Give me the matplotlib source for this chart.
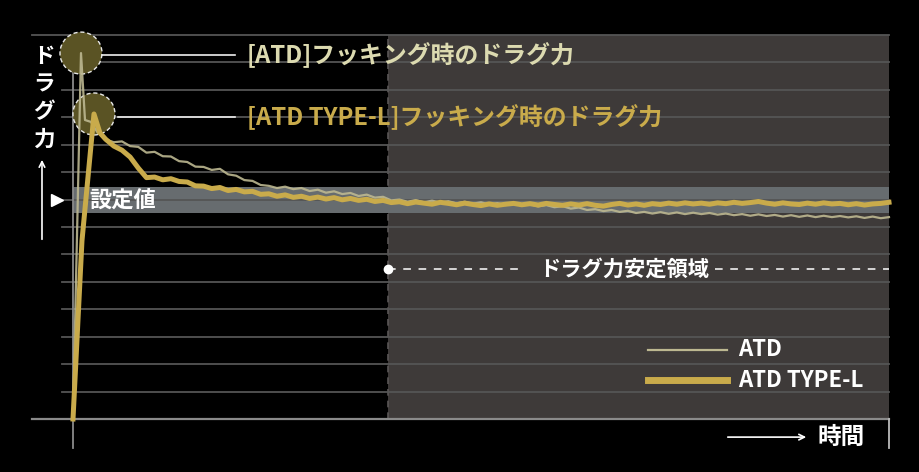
import numpy as np
import matplotlib
matplotlib.use('Agg')
import matplotlib.pyplot as plt
from matplotlib.patches import Ellipse, Rectangle

plt.rcParams['font.family'] = ['Noto Sans CJK JP', 'DejaVu Sans']

# time axis 0..100, drag axis 0..14 (grid every 1)
t_tail = list(range(4, 101))

# ATD (thin, pale)
atd_head_t = [0, 0.98, 1.47, 2.2, 3.0]
atd_head_y = [0, 13.34, 10.90, 10.83, 10.45]
atd_tail = [10.19, 10.09, 10.12, 9.95, 9.92, 9.71, 9.74, 9.58, 9.57, 9.40,
            9.37, 9.20, 9.19, 9.08, 9.12, 8.92, 8.87, 8.71, 8.68, 8.53,
            8.50, 8.42, 8.47, 8.38, 8.42, 8.31, 8.36, 8.25, 8.30, 8.20,
            8.24, 8.13, 8.18, 8.07, 8.10, 7.97, 8.00,
            7.92, 7.98, 7.90, 7.96, 7.89, 7.94, 7.86, 7.92, 7.85, 7.90,
            7.82, 7.87, 7.80, 7.85, 7.78, 7.83, 7.75, 7.80, 7.72, 7.76,
            7.67, 7.71, 7.62, 7.65, 7.58, 7.62, 7.55, 7.59, 7.51, 7.55,
            7.49, 7.54, 7.48, 7.53, 7.47, 7.52, 7.47, 7.51, 7.45, 7.49,
            7.43, 7.47, 7.41, 7.46, 7.40, 7.44, 7.38, 7.43, 7.37, 7.42,
            7.36, 7.41, 7.36, 7.40, 7.35, 7.39, 7.33, 7.38, 7.32, 7.36]

# ATD TYPE-L (thick, gold)
typel_head_t = [0, 1.1, 2.57, 3.3]
typel_head_y = [0, 6.5, 11.12, 10.43]
typel_tail = [10.20, 9.95, 9.80, 9.55, 9.15, 8.80, 8.82, 8.72, 8.76, 8.66,
              8.64, 8.50, 8.49, 8.40, 8.44, 8.33, 8.37, 8.28, 8.30, 8.19,
              8.21, 8.12, 8.17, 8.08, 8.12, 8.04, 8.09, 8.02, 8.07, 7.99,
              8.04, 7.97, 8.01, 7.93, 7.97, 7.89, 7.92,
              7.85, 7.91, 7.87, 7.83, 7.90, 7.86, 7.81, 7.87, 7.82, 7.78,
              7.84, 7.79, 7.83, 7.86, 7.81, 7.85, 7.80, 7.86, 7.82, 7.79,
              7.84, 7.80, 7.85, 7.79, 7.76, 7.82, 7.86, 7.80, 7.84, 7.79,
              7.85, 7.82, 7.87, 7.83, 7.88, 7.84, 7.87, 7.83, 7.88, 7.85,
              7.90, 7.86, 7.89, 7.93, 7.87, 7.83, 7.88, 7.84, 7.82, 7.87,
              7.83, 7.88, 7.84, 7.86, 7.81, 7.85, 7.80, 7.84, 7.86, 7.90]

setpoint_low, setpoint_high = 7.5, 8.47
stable_start = 38.6
t_end = 100
y_top = 14

pale = '#bdb891'
gold = '#c9ab4b'
grid_c = '#555555'

fig = plt.figure(figsize=(9.2, 4.72), dpi=100, facecolor='black')
ax = fig.add_axes([0, 0, 1, 1])
ax.set_facecolor('black')
# map whole figure so that t=0 sits at x=73px and y=0 at 419px
ax.set_xlim(-8.946, 103.8)
ax.set_ylim(-1.932, 15.275)
ax.axis('off')

# stable region background
ax.add_patch(Rectangle((stable_start, 0), t_end - stable_start, y_top,
                       facecolor='#3e3a39', edgecolor='none', zorder=0))
ax.plot([stable_start, stable_start], [0, y_top], color='#5a5656', lw=1.2,
        ls=(0, (4, 3)), zorder=1)

# set value band
ax.add_patch(Rectangle((0, setpoint_low), t_end, setpoint_high - setpoint_low,
                       facecolor='#676c6f', edgecolor='none', zorder=1))

# grid
for yv in range(1, y_top):
    ax.plot([-1.35, t_end], [yv, yv], color=grid_c, lw=1.3, zorder=2)
ax.plot([-5, t_end], [y_top, y_top], color=grid_c, lw=1.3, zorder=2)

# axes lines
ax.plot([-5, t_end], [0, 0], color='#8a8a8a', lw=1.6, zorder=3)
ax.plot([0, 0], [-1.06, y_top], color='#8a8a8a', lw=1.3, zorder=3)
ax.plot([t_end, t_end], [0, -1.06], color='#bbbbbb', lw=1.3, zorder=3)

# highlight circles at the peaks
for (cx, cy) in [(atd_head_t[1], atd_head_y[1]), (typel_head_t[2], typel_head_y[2])]:
    ax.add_patch(Ellipse((cx, cy), 5.15, 1.53, facecolor='#5a5324',
                         edgecolor='#e8e8e8', lw=1.0, ls=(0, (3, 2)), zorder=4))

# series
ax.plot(atd_head_t + t_tail, atd_head_y + atd_tail, color=pale, lw=1.6,
        alpha=0.9, zorder=5, solid_joinstyle='round')
ax.plot(typel_head_t + t_tail, typel_head_y + typel_tail, color=gold, lw=3.6,
        zorder=6, solid_joinstyle='round')

# callouts
ax.plot([3.6, 19.85], [atd_head_y[1] - 0.07, atd_head_y[1] - 0.07], color='#eeeeee', lw=1.2, zorder=6)
ax.plot([5.5, 19.85], [typel_head_y[2] - 0.11, typel_head_y[2] - 0.11], color='#eeeeee', lw=1.2, zorder=6)
ax.text(21.3, atd_head_y[1] - 0.07, '[ATD]フッキング時のドラグ力', color='#dcdab0',
        fontsize=17.2, fontweight='bold', va='center', ha='left', zorder=7)
ax.text(21.3, typel_head_y[2] - 0.11, '[ATD TYPE-L]フッキング時のドラグ力', color=gold,
        fontsize=17.2, fontweight='bold', va='center', ha='left', zorder=7)

# set value label
ax.plot([-1.96], [7.98], marker='>', color='white', markersize=8, zorder=7)
ax.text(2.0, 7.98, '設定値', color='white', fontsize=16, fontweight='bold',
        va='center', ha='left', zorder=7)

# stable region annotation
y_st = 5.47
ax.plot([stable_start], [y_st], marker='o', color='white', markersize=6, zorder=7)
ax.plot([stable_start, 55.4], [y_st, y_st], color='white', lw=1.1, ls=(0, (5, 5)), zorder=7)
ax.plot([78.7, t_end], [y_st, y_st], color='white', lw=1.1, ls=(0, (5, 5)), zorder=7)
ax.text(67.5, y_st, 'ドラグ力安定領域', color='white', fontsize=15.3, fontweight='bold',
        va='center', ha='center', zorder=7)

# legend
ax.plot([70.5, 80.1], [2.52, 2.52], color=pale, lw=1.6, zorder=7)
ax.plot([70.5, 80.1], [1.42, 1.42], color=gold, lw=5, zorder=7)
ax.text(81.5, 2.52, 'ATD', color='white', fontsize=16, fontweight='bold', va='center', zorder=7)
ax.text(81.5, 1.42, 'ATD TYPE-L', color='white', fontsize=16, fontweight='bold', va='center', zorder=7)

# y label, stacked
for i, ch in enumerate('ドラグ力'):
    ax.text(-3.6, 13.2 - i * 1.0, ch, color='white', fontsize=15.5, fontweight='bold',
            va='center', ha='center', zorder=7)
ax.annotate('', xy=(-3.8, 9.55), xytext=(-3.8, 6.45),
            arrowprops=dict(arrowstyle='->', color='white', lw=1.2))

# x label
ax.annotate('', xy=(90.2, -0.66), xytext=(79.9, -0.66),
            arrowprops=dict(arrowstyle='->', color='white', lw=1.2))
ax.text(91.2, -0.66, '時間', color='white', fontsize=17, fontweight='bold',
        va='center', ha='left', zorder=7)

fig.savefig('out.png', dpi=100, facecolor='black')
